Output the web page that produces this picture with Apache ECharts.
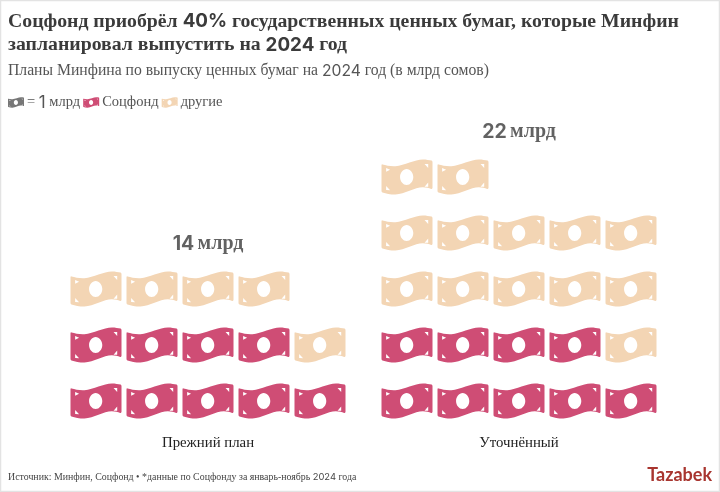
<!DOCTYPE html>
<html><head><meta charset="utf-8">
<script src="https://cdn.jsdelivr.net/npm/echarts@6/dist/echarts.min.js"></script>
<style>html,body{margin:0;padding:0;background:#fff}#c{width:720px;height:492px}</style>
</head><body><div id="c"></div>
<script>
const plans = ['Прежний план', 'Уточнённый'];
const sotsfond = [9, 9];
const others = [5, 13];
const totals = ['14 млрд', '22 млрд'];
const legendNames = ['= 1 млрд', 'Соцфонд', 'другие'];
const perRow = 5;

const note = 'path://M3 14C14 16 26 20 42 19C70 17 100 0 125 0C135 0 145 2 151 3Q154 4 154 8L154 81Q154 85 150 84C143 81 135 79 125 79C100 79 70 98 42 100C26 100 14 97 3 94Q0 93 0 89L0 17Q0 13 3 14Z' +
  'M14 24L14 35L26 29ZM130 13L141 24L141 13ZM14 76L14 87L26 88ZM141 66L130 78L141 78Z' +
  'M76 27C65 27 56 38 56 50C56 62 65 73 76 73C87 73 96 62 96 50C96 38 87 27 76 27Z';
const serif = '"Liberation Serif", serif';
const sans = 'Inter, sans-serif';
const PINK = '#cf4d75', BEIGE = '#f3d5b4', GREY = '#777777';

function cells(from, to) {
  const out = [];
  for (let i = from; i < to; i++) out.push([i % perRow, Math.floor(i / perRow)]);
  return out;
}
const grids = [{left: 68, width: 280, top: 93, height: 336}, {left: 379, width: 280, top: 93, height: 336}];
const xAxes = plans.map((p, i) => ({
  type: 'value', gridIndex: i, min: -0.5, max: 4.5, name: p, nameLocation: 'middle', nameGap: 7,
  nameTextStyle: {fontFamily: serif, fontSize: 14.8, color: '#222'},
  axisLine: {show: false}, axisTick: {show: false}, axisLabel: {show: false}, splitLine: {show: false}
}));
const yAxes = plans.map((p, i) => ({
  type: 'value', gridIndex: i, min: -0.5, max: 5.5, show: false
}));
const base = {type: 'scatter', symbol: note, symbolSize: [51, 35], symbolKeepAspect: false, silent: true};
const series = [];
series.push({...base, name: legendNames[0], data: [], itemStyle: {color: GREY, opacity: 1}});
plans.forEach((p, i) => {
  const total = sotsfond[i] + others[i];
  series.push({...base, name: legendNames[1], xAxisIndex: i, yAxisIndex: i, data: cells(0, sotsfond[i]), itemStyle: {color: PINK, opacity: 1}});
  series.push({...base, name: legendNames[2], xAxisIndex: i, yAxisIndex: i, data: cells(sotsfond[i], total), itemStyle: {color: BEIGE, opacity: 1}});
  const top = Math.floor((total - 1) / perRow);
  series.push({
    type: 'scatter', silent: true, xAxisIndex: i, yAxisIndex: i, symbolSize: 0, data: [[2, top + 0.8]],
    label: {show: true, position: 'inside', formatter: () => {
      const [n, u] = totals[i].split(' ');
      return '{n|' + n + '} {u|' + u + '}';
    }, rich: {
      n: {fontFamily: sans, fontWeight: 'bold', fontSize: 19.5, color: '#3b3b3b'},
      u: {fontFamily: serif, fontWeight: 'bold', fontSize: 20, color: '#3b3b3b'}
    }}
  });
});
const chart = echarts.init(document.getElementById('c'), null, {renderer: 'canvas'});
chart.setOption({
  animation: false, backgroundColor: '#fff',
  title: [{
    left: 8, top: 10, padding: 0,
    text: '{a|Соцфонд приобрёл }{b|40%}{a| государственных ценных бумаг, которые Минфин}\n{a|запланировал выпустить на }{b|2024}{a| год}',
    textStyle: {fontWeight: 'normal', rich: {
      a: {fontFamily: serif, fontWeight: 'bold', fontSize: 19.75, color: '#3b3b3b', lineHeight: 23.5},
      b: {fontFamily: sans, fontWeight: 'bold', fontSize: 18.8, color: '#3b3b3b', lineHeight: 23.5}
    }}
  }, {
    left: 8, top: 61, padding: 0,
    text: '{a|Планы Минфина по выпуску ценных бумаг на }{b|2024}{a| год (в млрд сомов)}',
    textStyle: {fontWeight: 'normal', rich: {
      a: {fontFamily: serif, fontSize: 15.7, color: '#555', lineHeight: 20},
      b: {fontFamily: sans, fontSize: 15.7, color: '#555', lineHeight: 20}
    }}
  }, {
    left: 8, top: 470, padding: 0,
    text: '{a|Источник: Минфин, Соцфонд • *данные по Соцфонду за январь-ноябрь }{b|2024}{a| года}',
    textStyle: {fontWeight: 'normal', rich: {
      a: {fontFamily: serif, fontSize: 9.9, color: '#444', lineHeight: 14},
      b: {fontFamily: sans, fontSize: 9.4, color: '#444', lineHeight: 14}
    }}
  }],
  legend: {
    left: 8, top: 94, orient: 'horizontal', itemWidth: 16, itemHeight: 12, itemGap: 3, padding: 0,
    selectedMode: false, data: legendNames.map(n => ({name: n, icon: note})),
    formatter: n => n === legendNames[0] ? '{a|= }{b|1}{a| млрд}' : '{a|' + n + '}',
    textStyle: {padding: [0, 0, 0, -2], rich: {
      a: {fontFamily: serif, fontSize: 14.5, color: '#555'},
      b: {fontFamily: sans, fontSize: 17, color: '#555'}
    }}
  },
  grid: grids, xAxis: xAxes, yAxis: yAxes, series,
  graphic: [
    {type: 'rect', silent: true, z: -1, shape: {x: 0.5, y: 0.5, width: 719, height: 491}, style: {fill: 'none', stroke: '#e3e3e3', lineWidth: 1.5}},
    {type: 'text', silent: true, right: 8, top: 466, style: {
      text: 'Tazabek', fontFamily: '"Lato", sans-serif', fontWeight: 'bold', fontSize: 18, fill: '#a8352f'
    }}
  ]
});
</script></body></html>
